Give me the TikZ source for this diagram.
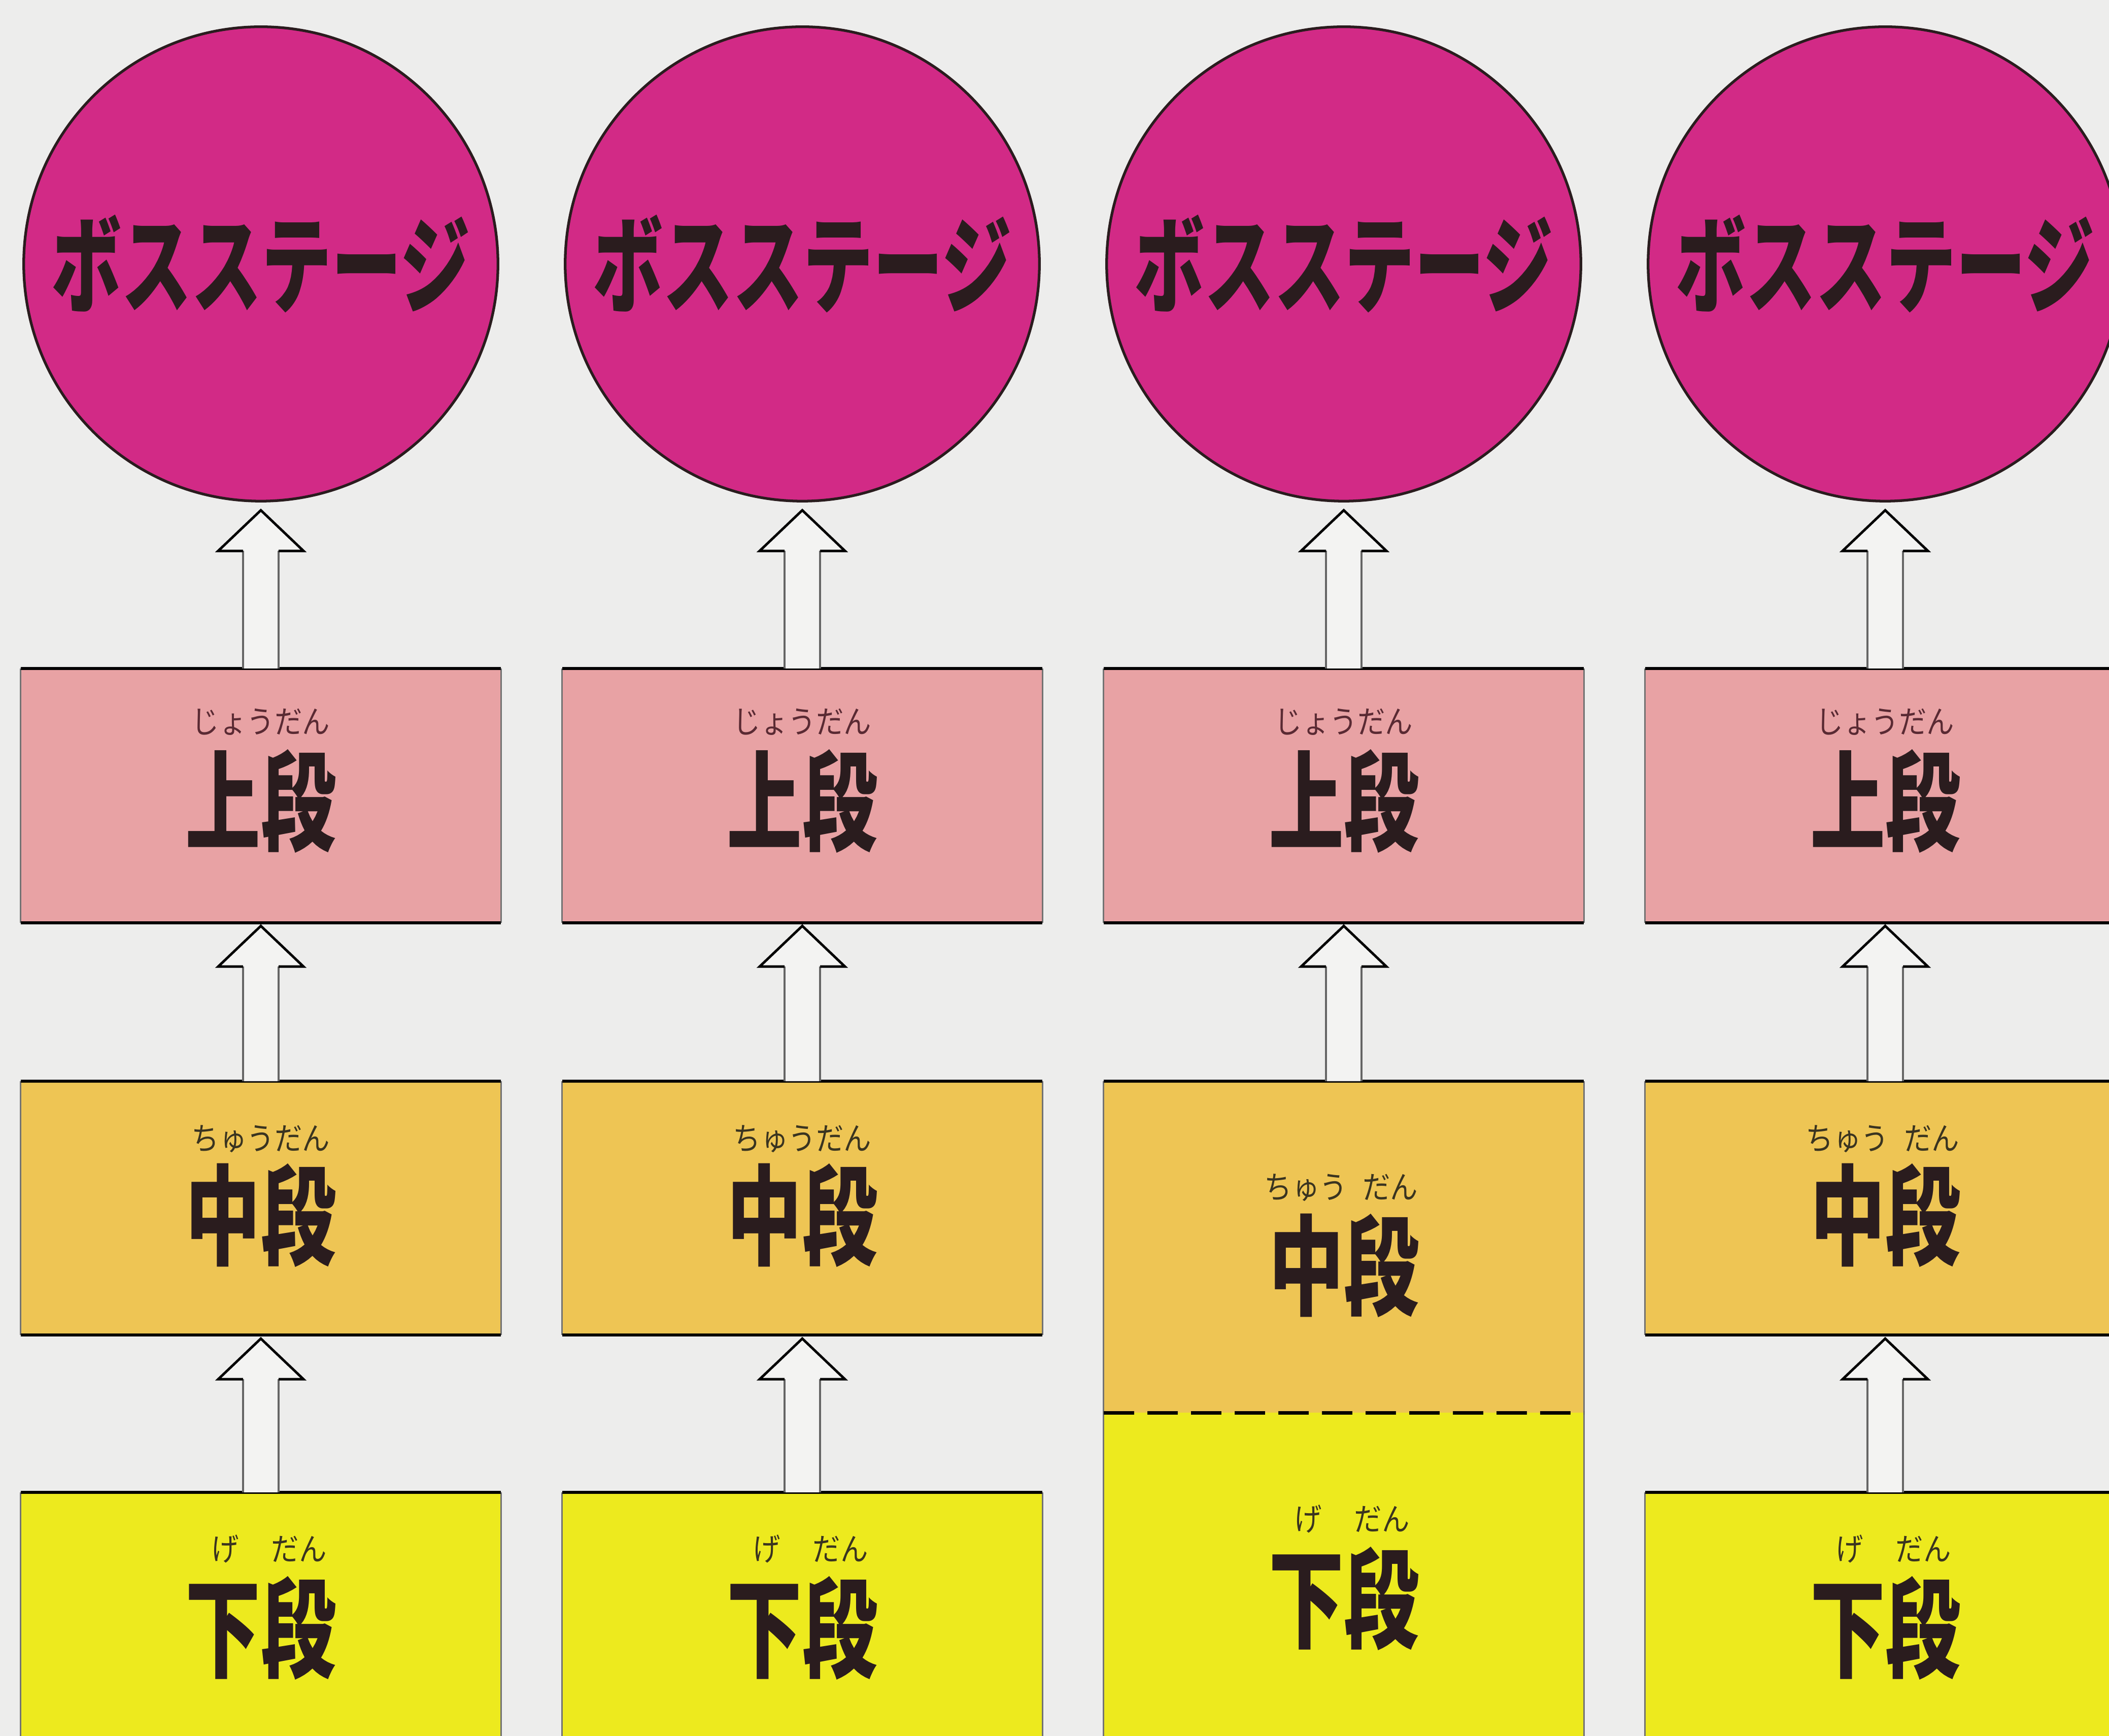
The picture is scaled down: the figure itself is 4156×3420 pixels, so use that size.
\documentclass[tikz,border=0pt]{standalone}
\usepackage{fontspec}
\usetikzlibrary{calc}
\newfontfamily\ttlfont{Noto Sans CJK JP}[FakeStretch=0.66]
\newfontfamily\kanjifont{Noto Sans CJK JP}[FakeStretch=0.69]
\newfontfamily\furifont{Noto Sans CJK JP}[FakeStretch=0.88]
\definecolor{bgc}{HTML}{EDEDEC}
\definecolor{arrfill}{HTML}{F3F3F2}
\definecolor{bossc}{HTML}{D22A86}
\definecolor{upc}{HTML}{E8A2A4}
\definecolor{midc}{HTML}{EEC554}
\definecolor{lowc}{HTML}{EDEA1E}
\definecolor{inkc}{HTML}{2A1C1E}
\definecolor{furiup}{HTML}{5A2A33}
\definecolor{furiy}{HTML}{3A3420}
\tikzset{
  bossnode/.style={circle, fill=bossc, draw=inkc, line width=1.5pt, minimum size=9.34cm,
    inner sep=0pt, outer sep=0pt, text=inkc,
    font=\ttlfont\bfseries\fontsize{59.5}{60}\selectfont},
  boxbase/.style={rectangle, minimum width=9.46cm, inner sep=0pt, outer sep=0pt},
  upbox/.style={boxbase, fill=upc, minimum height=5.01cm},
  midbox/.style={boxbase, fill=midc, minimum height=5.00cm},
  lowbox/.style={boxbase, fill=lowc, minimum height=5.20cm},
  kanji/.style={inner sep=0pt, text=inkc, font=\kanjifont\bfseries\fontsize{61}{62}\selectfont},
  furi/.style={inner sep=0pt, font=\furifont\fontsize{17.6}{18}\selectfont},
  sideline/.style={draw=black!55, line width=0.85pt},
  edgeline/.style={draw=black, line width=1.7pt},
  dashline/.style={draw=black, line width=2pt, dash pattern=on 0.6cm off 0.26cm},
  headline/.style={draw=black, line width=1.4pt, line join=miter},
  shaftline/.style={draw=black!60, line width=1pt},
}
\newcommand{\stageframe}[1]{%
  \draw[sideline] (#1.north west) -- (#1.south west) (#1.north east) -- (#1.south east);
  \draw[edgeline] (#1.north west) -- (#1.north east);
  \draw[edgeline] (#1.south west) -- (#1.south east);
}
% #1 lower (source) node, #2 upper (target) node, #3 gap below target
\newcommand{\hollowup}[3]{%
  \fill[arrfill] let \p1=(#1.north), \p2=(#2.south) in
    (\x1-0.35cm,\y1) -- (\x1-0.35cm,\y2-#3-0.8cm) -- (\x1-0.84cm,\y2-#3-0.8cm)
    -- (\x1,\y2-#3) -- (\x1+0.84cm,\y2-#3-0.8cm) -- (\x1+0.35cm,\y2-#3-0.8cm)
    -- (\x1+0.35cm,\y1) -- cycle;
  \draw[shaftline] let \p1=(#1.north), \p2=(#2.south) in
    (\x1-0.35cm,\y1) -- (\x1-0.35cm,\y2-#3-0.8cm)
    (\x1+0.35cm,\y1) -- (\x1+0.35cm,\y2-#3-0.8cm);
  \draw[headline] let \p1=(#1.north), \p2=(#2.south) in
    (\x1-0.35cm,\y2-#3-0.8cm) -- (\x1-0.84cm,\y2-#3-0.8cm)
    -- (\x1,\y2-#3) -- (\x1+0.84cm,\y2-#3-0.8cm) -- (\x1+0.35cm,\y2-#3-0.8cm);
}
\begin{document}
\begin{tikzpicture}[x=0.01cm, y=0.01cm]
\useasboundingbox (0,0) rectangle (4156,3420);
\clip (0,0) rectangle (4156,3420);
\fill[bgc] (0,0) rectangle (4156,3420);

% ---------- column 1 ----------
\node[bossnode] (c1) at (514,2900) {ボスステージ};
\node[upbox] (u1) at (514,1852.5) {};
\node[midbox] (m1) at (514,1040) {};
\node[lowbox] (l1) at (514,220) {};
\stageframe{u1}\stageframe{m1}\stageframe{l1}
\node[kanji] (ku1) at ([yshift=-0.105cm]u1.center) {上段};
\node[furi, text=furiup] (fu1) at ([yshift=1.56cm]ku1.center) {じょうだん};
\node[kanji] (km1) at ([yshift=-0.14cm]m1.center) {中段};
\node[furi, text=furiy] (fm1) at ([yshift=1.5cm]km1.center) {ちゅうだん};
\node[kanji] (kl1) at ([yshift=-0.07cm]l1.center) {下段};
\node[furi, text=furiy] (fl1) at ([xshift=0.16cm,yshift=1.56cm]kl1.center) {げ\hspace{0.64cm}だん};
\hollowup{u1}{c1}{0.18cm}
\hollowup{m1}{u1}{0.06cm}
\hollowup{l1}{m1}{0.07cm}

% ---------- column 2 ----------
\node[bossnode] (c2) at (1581,2900) {ボスステージ};
\node[upbox] (u2) at (1581,1852.5) {};
\node[midbox] (m2) at (1581,1040) {};
\node[lowbox] (l2) at (1581,220) {};
\stageframe{u2}\stageframe{m2}\stageframe{l2}
\node[kanji] (ku2) at ([yshift=-0.105cm]u2.center) {上段};
\node[furi, text=furiup] (fu2) at ([yshift=1.56cm]ku2.center) {じょうだん};
\node[kanji] (km2) at ([yshift=-0.14cm]m2.center) {中段};
\node[furi, text=furiy] (fm2) at ([yshift=1.5cm]km2.center) {ちゅうだん};
\node[kanji] (kl2) at ([yshift=-0.07cm]l2.center) {下段};
\node[furi, text=furiy] (fl2) at ([xshift=0.16cm,yshift=1.56cm]kl2.center) {げ\hspace{0.64cm}だん};
\hollowup{u2}{c2}{0.18cm}
\hollowup{m2}{u2}{0.06cm}
\hollowup{l2}{m2}{0.07cm}

% ---------- column 3 ----------
\node[bossnode] (c3) at (2648,2900) {ボスステージ};
\node[upbox] (u3) at (2648,1852.5) {};
\node[midbox, minimum height=6.53cm] (m3) at (2648,963.5) {};
\node[lowbox, minimum height=6.77cm] (l3) at (2648,298.5) {};
\stageframe{u3}
\draw[sideline] (m3.north west) -- (l3.south west) (m3.north east) -- (l3.south east);
\draw[edgeline] (m3.north west) -- (m3.north east);
\draw[dashline] (m3.south west) -- (m3.south east);
\node[kanji] (ku3) at ([yshift=-0.105cm]u3.center) {上段};
\node[furi, text=furiup] (fu3) at ([yshift=1.56cm]ku3.center) {じょうだん};
\node[kanji] (km3) at ([yshift=-0.365cm]m3.center) {中段};
\node[furi, text=furiy] (fm3) at ([xshift=-0.05cm,yshift=1.53cm]km3.center) {ちゅう\hspace{0.3cm}だん};
\node[kanji] (kl3) at ([yshift=-0.275cm]l3.center) {下段};
\node[furi, text=furiy] (fl3) at ([xshift=0.16cm,yshift=1.57cm]kl3.center) {げ\hspace{0.64cm}だん};
\hollowup{u3}{c3}{0.18cm}
\hollowup{m3}{u3}{0.06cm}

% ---------- column 4 ----------
\node[bossnode] (c4) at (3715,2900) {ボスステージ};
\node[upbox] (u4) at (3715,1852.5) {};
\node[midbox] (m4) at (3715,1040) {};
\node[lowbox] (l4) at (3715,220) {};
\stageframe{u4}\stageframe{m4}\stageframe{l4}
\node[kanji] (ku4) at ([yshift=-0.105cm]u4.center) {上段};
\node[furi, text=furiup] (fu4) at ([yshift=1.56cm]ku4.center) {じょうだん};
\node[kanji] (km4) at ([yshift=-0.14cm]m4.center) {中段};
\node[furi, text=furiy] (fm4) at ([xshift=-0.05cm,yshift=1.5cm]km4.center) {ちゅう\hspace{0.3cm}だん};
\node[kanji] (kl4) at ([yshift=-0.07cm]l4.center) {下段};
\node[furi, text=furiy] (fl4) at ([xshift=0.16cm,yshift=1.56cm]kl4.center) {げ\hspace{0.64cm}だん};
\hollowup{u4}{c4}{0.18cm}
\hollowup{m4}{u4}{0.06cm}
\hollowup{l4}{m4}{0.07cm}
\end{tikzpicture}
\end{document}
